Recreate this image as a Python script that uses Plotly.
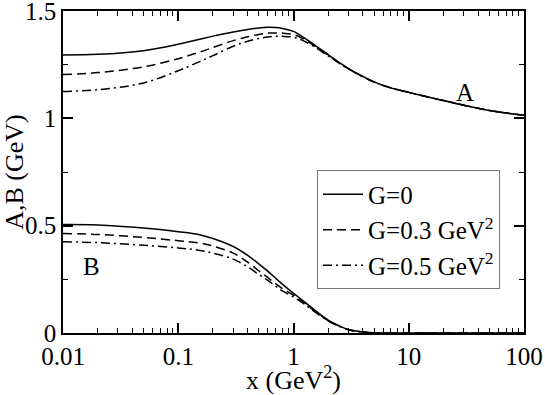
import plotly.graph_objects as go

# x grid (GeV^2) shared by all curves
x = [0.01, 0.02, 0.05, 0.1, 0.15, 0.2, 0.3, 0.4, 0.5, 0.6, 0.7, 0.8, 1.0, 1.2,
     1.5, 2, 2.5, 3, 4, 5, 7, 10, 15, 20, 30, 50, 70, 100]

# A(x) in GeV
a_g0 = [1.295, 1.298, 1.315, 1.345, 1.367, 1.383, 1.402, 1.414, 1.421, 1.424, 1.423, 1.419, 1.405, 1.38,
        1.345, 1.297, 1.26, 1.232, 1.195, 1.17, 1.142, 1.121, 1.098, 1.083, 1.061, 1.037, 1.025, 1.014]
a_g3 = [1.204, 1.213, 1.24, 1.278, 1.307, 1.33, 1.362, 1.38, 1.391, 1.397, 1.398, 1.397, 1.39, 1.372,
        1.34, 1.294, 1.258, 1.231, 1.194, 1.169, 1.142, 1.121, 1.098, 1.083, 1.061, 1.037, 1.025, 1.014]
a_g5 = [1.125, 1.133, 1.165, 1.222, 1.262, 1.292, 1.336, 1.359, 1.372, 1.379, 1.382, 1.382, 1.378, 1.363,
        1.335, 1.291, 1.256, 1.23, 1.193, 1.169, 1.141, 1.121, 1.098, 1.083, 1.061, 1.037, 1.025, 1.014]

# B(x) in GeV
b_g0 = [0.505, 0.503, 0.489, 0.472, 0.459, 0.44, 0.403, 0.362, 0.322, 0.287, 0.255, 0.228, 0.185, 0.152,
        0.11, 0.06, 0.033, 0.016, 0.005, 0.0015, 0, 0, 0, 0, 0, 0, 0, 0]
b_g3 = [0.463, 0.459, 0.445, 0.43, 0.42, 0.405, 0.372, 0.33, 0.29, 0.258, 0.23, 0.207, 0.176, 0.146,
        0.106, 0.058, 0.032, 0.015, 0.005, 0.0015, 0, 0, 0, 0, 0, 0, 0, 0]
b_g5 = [0.425, 0.421, 0.409, 0.396, 0.386, 0.372, 0.344, 0.308, 0.273, 0.245, 0.218, 0.196, 0.168, 0.14,
        0.102, 0.056, 0.031, 0.014, 0.004, 0.001, 0, 0, 0, 0, 0, 0, 0, 0]

names = ["G=0", "G=0.3 GeV<sup>2</sup>", "G=0.5 GeV<sup>2</sup>"]
dashes = ["solid", "9px,5px", "9px,4px,2px,4px"]
a_sets = [a_g0, a_g3, a_g5]
b_sets = [b_g0, b_g3, b_g5]

font = "Liberation Serif, Times New Roman, Times, serif"
tsize = 25   # tick labels / legend / curve labels
hsize = 26   # axis titles

fig = go.Figure()
for name, dash, a, b in zip(names, dashes, a_sets, b_sets):
    fig.add_trace(go.Scatter(x=x, y=a, mode="lines", name=name,
                             line=dict(color="black", width=1.5, dash=dash, shape="spline")))
    fig.add_trace(go.Scatter(x=x, y=b, mode="lines", name=name, showlegend=False,
                             line=dict(color="black", width=1.5, dash=dash, shape="spline")))

# curve labels
fig.add_annotation(x=1.49, y=1.12, xref="x", yref="y", text="A", showarrow=False,
                   font=dict(size=tsize, color="black", family=font))
fig.add_annotation(x=-1.75, y=0.31, xref="x", yref="y", text="B", showarrow=False,
                   font=dict(size=tsize, color="black", family=font))

axis_style = dict(showgrid=False, zeroline=False, automargin=False,
                  showline=True, linecolor="black", linewidth=1.5, mirror="allticks",
                  ticks="inside", ticklen=10, tickwidth=1.5, tickcolor="black",
                  ticklabeloverflow="allow",
                  tickfont=dict(size=tsize, color="black", family=font))

fig.update_xaxes(type="log", range=[-2, 2],
                 tickvals=[0.01, 0.1, 1, 10, 100], ticktext=["0.01", "0.1", "1", "10", "100"],
                 minor=dict(ticks="inside", ticklen=5, tickwidth=1, tickcolor="black",
                            dtick="D1", showgrid=False),
                 title=dict(text="x (GeV<sup>2</sup>)", standoff=7,
                            font=dict(size=hsize, color="black", family=font)),
                 **axis_style)
fig.update_yaxes(range=[0, 1.5],
                 tickvals=[0, 0.5, 1, 1.5], ticktext=["0", "0.5", "1", "1.5"],
                 minor=dict(ticks="inside", ticklen=5, tickwidth=1, tickcolor="black",
                            tickvals=[0.25, 0.75, 1.25], showgrid=False),
                 title=dict(text="A,B (GeV)", standoff=0,
                            font=dict(size=hsize, color="black", family=font)),
                 **axis_style)

fig.update_layout(
    width=545, height=395,
    margin=dict(l=63, r=21, t=11, b=62),
    plot_bgcolor="white", paper_bgcolor="white",
    font=dict(family=font, size=tsize, color="black"),
    showlegend=True,
    legend=dict(x=0.551, y=0.505, xanchor="left", yanchor="top",
                bgcolor="white", bordercolor="#777777", borderwidth=1,
                font=dict(size=tsize, color="black", family=font),
                tracegroupgap=0, itemwidth=40),
)

# drop the browser's default 8px page margin so the figure fills the window
fig.write_html("out.html", config={"displayModeBar": False},
               post_script="document.body.style.margin='0';")
